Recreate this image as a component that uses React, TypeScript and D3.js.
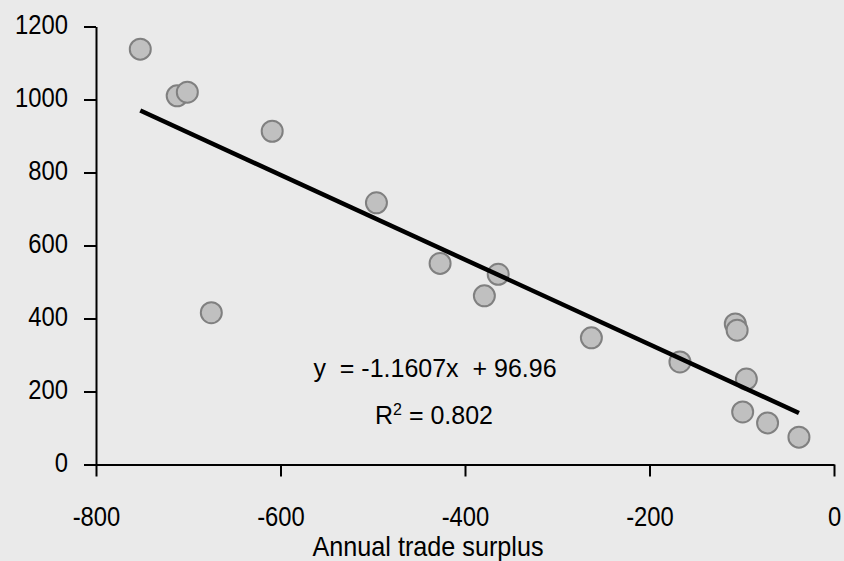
import { useEffect, useRef } from "react";
import * as d3 from "d3";

// trade surplus (x) vs. value (y)
const surplus = [
  -752, -712, -701, -609, -675, -496, -427, -379, -364, -263, -167, -107, -105,
  -95, -99, -72, -38,
];
const values = [
  1138, 1010, 1020, 913, 416, 717, 551, 462, 521, 347, 281, 385, 368, 234, 144,
  114, 75,
];
const xTicks = [-800, -600, -400, -200, 0];
const yTicks = [0, 200, 400, 600, 800, 1000, 1200];
const slope = -1.1607;
const intercept = 96.96;

const W = 844;
const H = 561;
const FONT = "'Liberation Sans', Arial, sans-serif";
const NARROW = 0.85; // no narrow font installed, squeeze horizontally

const App = () => {
  const svgRef = useRef<SVGSVGElement | null>(null);

  useEffect(() => {
    if (!svgRef.current) return;
    const svg = d3.select(svgRef.current);
    svg.selectAll("*").remove();

    const x = d3.scaleLinear().domain([-800, 0]).range([96, 834]);
    const y = d3.scaleLinear().domain([0, 1200]).range([464.5, 26.5]);

    svg.append("rect").attr("width", W).attr("height", H).attr("fill", "#eaeaea");

    // y axis
    const yAxis = d3
      .axisLeft(y)
      .tickValues(yTicks)
      .tickSize(12)
      .tickSizeOuter(0)
      .tickFormat((d) => String(d));
    const yg = svg.append("g").attr("transform", `translate(${x(-800)},0)`).call(yAxis);
    yg.selectAll("path, line").attr("stroke", "#000").attr("stroke-width", 2);
    yg.selectAll("text")
      .attr("x", -28 / NARROW)
      .attr("dy", "0.25em")
      .attr("transform", `scale(${NARROW},1)`)
      .attr("fill", "#000")
      .attr("font-family", FONT)
      .attr("font-size", 28);

    // x axis
    const xAxis = d3
      .axisBottom(x)
      .tickValues(xTicks)
      .tickSize(12)
      .tickSizeOuter(0)
      .tickFormat((d) => String(d));
    const xg = svg.append("g").attr("transform", `translate(0,${y(0)})`).call(xAxis);
    xg.selectAll("path, line").attr("stroke", "#000").attr("stroke-width", 2);
    xg.selectAll("text")
      .attr("y", 61.5)
      .attr("dy", null)
      .attr("transform", `scale(${NARROW},1)`)
      .attr("fill", "#000")
      .attr("font-family", FONT)
      .attr("font-size", 28);
    svg.selectAll(".domain").attr("fill", "none");

    // points
    const pts = surplus.map((s, i) => ({ s, v: values[i] }));
    svg
      .append("g")
      .selectAll("circle")
      .data(pts)
      .enter()
      .append("circle")
      .attr("cx", (d) => x(d.s))
      .attr("cy", (d) => y(d.v))
      .attr("r", 10.5)
      .attr("fill", "#c0c0c0")
      .attr("stroke", "#808080")
      .attr("stroke-width", 2);

    // trend line
    const [x0, x1] = d3.extent(surplus) as [number, number];
    const line = d3
      .line<number>()
      .x((d) => x(d))
      .y((d) => y(slope * d + intercept));
    svg
      .append("path")
      .attr("d", line([x0, x1]))
      .attr("fill", "none")
      .attr("stroke", "#000")
      .attr("stroke-width", 4.5);

    // equation
    svg
      .append("text")
      .attr("x", 435)
      .attr("y", 377)
      .attr("text-anchor", "middle")
      .attr("font-family", FONT)
      .attr("font-size", 25)
      .style("white-space", "pre")
      .text("y  = -1.1607x  + 96.96");
    const r2 = svg
      .append("text")
      .attr("x", 434)
      .attr("y", 424)
      .attr("text-anchor", "middle")
      .attr("font-family", FONT)
      .attr("font-size", 25);
    r2.append("tspan").text("R");
    r2.append("tspan").attr("dy", -9).attr("font-size", 16).text("2");
    r2.append("tspan").attr("dy", 9).text(" = 0.802");

    // x label
    svg
      .append("g")
      .attr("transform", `translate(428,556) scale(0.9,1)`)
      .append("text")
      .attr("text-anchor", "middle")
      .attr("font-family", FONT)
      .attr("font-size", 28)
      .text("Annual trade surplus");
  }, []);

  return (
    <svg
      ref={svgRef}
      width={W}
      height={H}
      style={{ position: "absolute", top: 0, left: 0, display: "block" }}
    />
  );
};

export default App;
